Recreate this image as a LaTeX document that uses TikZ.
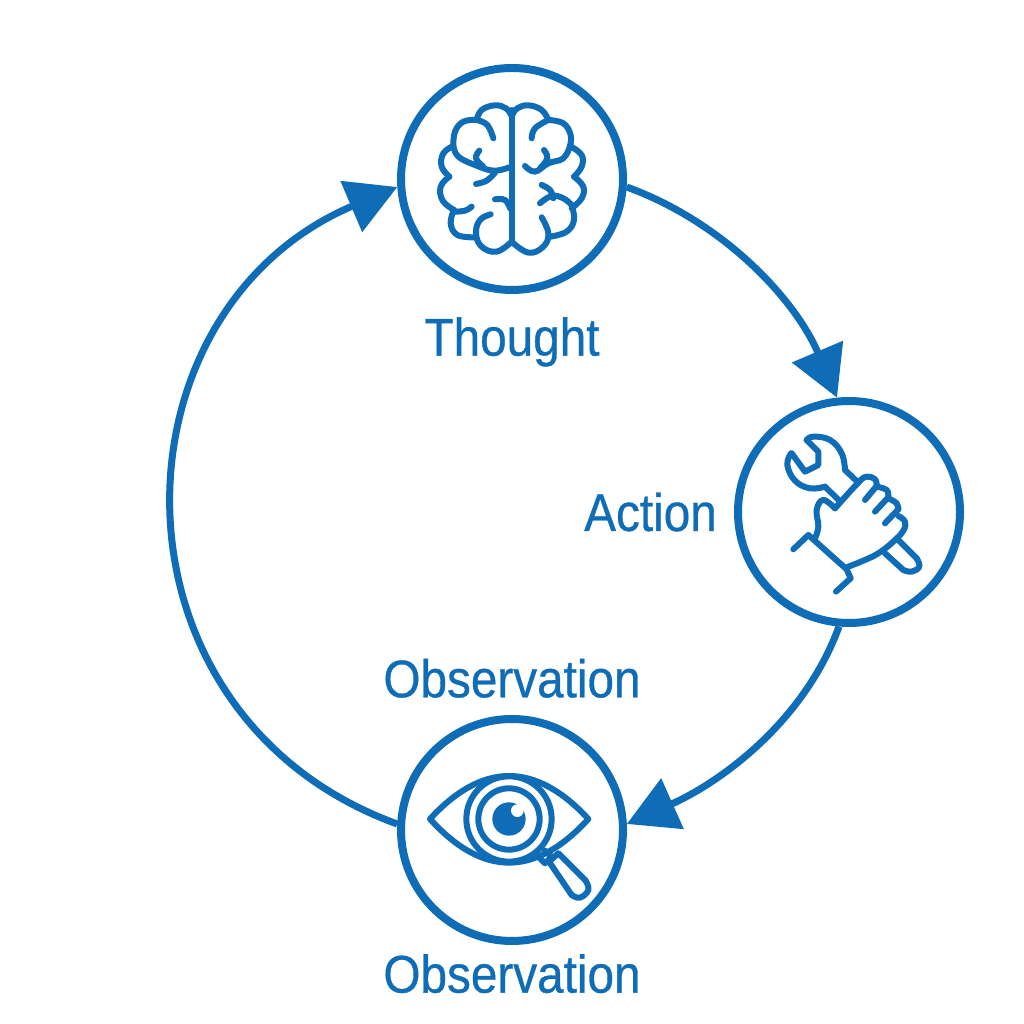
\documentclass[tikz,border=0pt]{standalone}
\usepackage{fontspec}
\usepackage{xcolor}
\setmainfont[FakeStretch=0.90,FakeBold=0.6]{Liberation Sans}
\usetikzlibrary{arrows.meta, positioning}
\definecolor{loopBlue}{RGB}{15,108,182}
\newcommand{\blob}[1]{\draw[icon] plot[smooth,tension=.7] coordinates {#1};}

\begin{document}
\begin{tikzpicture}[
  x=1pt, y=1pt,
  stage/.style={
    circle,
    draw=loopBlue,
    line width=8pt,
    fill=white,
    minimum size=222pt,
    inner sep=0pt
  },
  tag/.style={
    text=loopBlue,
    inner sep=0pt,
    font=\fontsize{53}{60}\selectfont
  },
  arr/.style={-{Triangle[length=50pt,width=54pt]}, line width=7pt, color=loopBlue},
  icon/.style={draw=loopBlue, line width=6pt, line cap=round, line join=round},
]
\useasboundingbox (0,0) rectangle (1024,1024);

\node[stage] (thought) at (512,845) {};
\node[stage] (action) at (849,512) {};
\node[stage] (observation) at (512,194) {};

\node[tag, below=23pt of thought] (thoughtlabel) {Thought};
\node[tag, left=17pt of action] (actionlabel) {Action};
\node[tag, above=17pt of observation] (observationtop) {Observation};
\node[tag, below=9pt of observation] (observationbottom) {Observation};

\draw[arr] (thought.-4) to[out=-20, in=113, looseness=.9] (action.96);
\draw[arr] (action.-95) to[out=-110, in=24, looseness=.9] (observation.3);
\draw[arr] (observation.177) to[out=160, in=203, looseness=1.28] (thought.184);

% brain
\begin{scope}[shift={(400,964)}, x=.3333pt, y=-.3333pt]
\draw[icon] (335,150) -- (335,550);
\blob{(333,165) (318,145) (285,136) (245,150) (230,180)}
\blob{(230,180) (190,185) (165,215) (160,258)}
\blob{(160,258) (130,280) (125,320) (148,350)}
\blob{(148,350) (122,380) (128,422) (162,450)}
\blob{(162,450) (152,490) (172,525) (225,532)}
\blob{(230,180) (262,195) (280,235)}
\blob{(160,258) (175,290) (225,315) (280,332) (328,322)}
\blob{(238,272) (228,295) (250,320)}
\blob{(228,372) (260,362) (285,338)}
\blob{(285,418) (315,420) (330,445)}
\blob{(165,455) (195,452) (215,440)}
\blob{(272,463) (240,480) (228,520) (245,560) (290,575) (335,545)}
\blob{(337,165) (352,145) (385,136) (425,150) (445,180)}
\blob{(445,180) (490,190) (512,225) (510,258)}
\blob{(510,258) (545,285) (545,320) (522,350)}
\blob{(522,350) (550,380) (545,415) (515,445)}
\blob{(515,435) (522,480) (500,515) (452,530)}
\blob{(395,235) (405,205) (445,180)}
\blob{(510,258) (490,295) (445,310) (405,335) (375,318)}
\blob{(432,270) (442,295) (420,325)}
\blob{(425,375) (450,390) (460,415)}
\blob{(420,430) (455,408) (490,415) (515,435)}
\blob{(335,545) (385,578) (430,560) (445,520) (425,472)}
\end{scope}

% wrench and hand
\begin{scope}[shift={(730,634)}, x=.3333pt, y=-.3333pt]
\draw[icon] (230,150) -- (265,185) -- (265,225) -- (225,245) -- (185,190);
\blob{(230,150) (250,140) (300,150) (335,190) (345,240)}
\draw[icon] (345,240) -- (385,278);
\blob{(183,190) (172,225) (195,272) (240,295) (285,290)}
\draw[icon] (285,290) -- (328,332);
\blob{(315,355) (385,278) (410,260) (435,268) (440,288)}
\draw[icon] (405,330) -- (440,288);
\blob{(440,290) (470,300) (475,322)}
\draw[icon] (475,322) -- (435,365);
\blob{(475,325) (500,340) (505,358)}
\draw[icon] (505,358) -- (465,400);
\blob{(505,378) (525,395) (520,422) (490,455) (445,490) (400,512) (350,532)}
\blob{(315,355) (280,330) (260,360) (265,410) (255,445)}
\draw[icon] (190,478) -- (235,435) -- (350,538) -- (362,565) -- (318,605);
\draw[icon] (505,450) -- (560,505);
\blob{(560,505) (568,530) (545,545) (520,540)}
\draw[icon] (520,540) -- (465,490);
\end{scope}

% eye and lens
\begin{scope}[shift={(395,304)}, x=.3333pt, y=-.3333pt]
\draw[icon] (105,297) .. controls (180,215) and (260,168) .. (342,168) .. controls (424,168) and (505,215) .. (580,297) .. controls (505,380) and (424,428) .. (342,428) .. controls (260,428) and (180,380) .. (105,297) -- cycle;
\fill[white] (342,297) circle (128);
\draw[icon] (342,297) circle (128);
\draw[icon] (342,297) circle (92);
\fill[loopBlue] (342,297) circle (50);
\fill[white] (367,272) circle (19);
\draw[icon] (430,410) -- (450,430) -- (470,410) -- (450,392);
\draw[icon] (462,425) -- (490,400) -- (572,482);
\blob{(572,482) (580,510) (555,533) (530,525)}
\draw[icon] (530,525) -- (462,425);
\end{scope}

\end{tikzpicture}
\end{document}
